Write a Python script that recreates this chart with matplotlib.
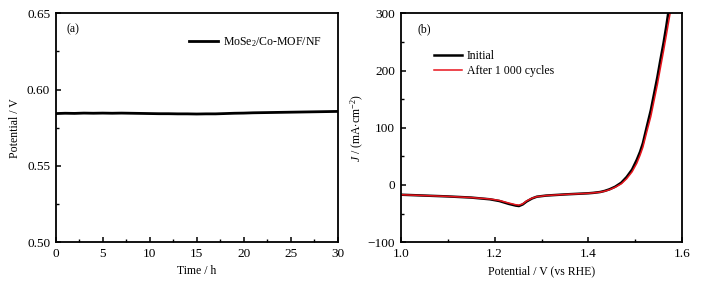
import matplotlib
matplotlib.use("Agg")
import matplotlib.pyplot as plt
import matplotlib.ticker as ticker

plt.rcParams['font.family'] = ['Liberation Serif', 'DejaVu Serif']
plt.rcParams['mathtext.fontset'] = 'custom'
plt.rcParams['mathtext.rm'] = 'Liberation Serif'
plt.rcParams['mathtext.it'] = 'Liberation Serif:italic'
plt.rcParams['font.size'] = 8.5

# (a) chronopotentiometry
tHours = [0, 1, 2, 3, 4, 5, 6, 7, 8, 9, 10, 11, 12, 13, 14, 15, 16, 17, 18, 19,
          20, 21, 22, 23, 24, 25, 26, 27, 28, 29, 30]
potA = [0.5843, 0.5845, 0.5844, 0.5846, 0.5845, 0.5846, 0.5845, 0.5846, 0.5845, 0.5844, 0.5843,
        0.5842, 0.5842, 0.5841, 0.5841, 0.5840, 0.5841, 0.5841, 0.5843, 0.5845,
        0.5846, 0.5848, 0.5849, 0.5850, 0.5851, 0.5852, 0.5853, 0.5854, 0.5855, 0.5856, 0.5857]
labelA = r"MoSe$_2$/Co-MOF/NF"

# (b) LSV before / after cycling
vInit = [1.00, 1.05, 1.10, 1.15, 1.19, 1.21, 1.23, 1.245, 1.252, 1.26, 1.268, 1.28, 1.29,
         1.31, 1.35, 1.40, 1.41, 1.425, 1.435, 1.445, 1.457, 1.47, 1.4815, 1.493, 1.503, 1.51, 1.516,
         1.525, 1.533, 1.54, 1.547, 1.553, 1.56, 1.566, 1.570]
jInit = [-17, -18.5, -20, -22, -25, -28, -33, -36, -36.8, -34, -29, -23.5, -20.5,
         -18.5, -16.5, -14.5, -13.8, -12.3, -10.3, -7.5, -3, 4, 14, 27, 44, 58, 73,
         104, 131, 160, 189, 217, 248, 278, 300]
vAfter = [1.00, 1.05, 1.10, 1.15, 1.19, 1.21, 1.23, 1.245, 1.252, 1.26, 1.268, 1.28, 1.29,
          1.31, 1.35, 1.40, 1.41, 1.425, 1.435, 1.445, 1.457, 1.47, 1.4815, 1.493, 1.503, 1.51, 1.516,
          1.525, 1.533, 1.54, 1.547, 1.553, 1.56, 1.566, 1.574]
jAfter = [-17, -18.5, -20, -22, -24.5, -27, -31.5, -34.5, -35.2, -33, -28, -23, -20.5,
          -18.5, -16.5, -14.5, -13.8, -12.5, -10.8, -8.3, -4, 2, 11, 23, 38, 52, 66,
          95, 120, 148, 176, 203, 234, 262, 300]
labelsB = ["Initial", "After 1 000 cycles"]

fig = plt.figure(figsize=(7.16, 2.86), dpi=100)
axA = fig.add_axes([55.7/716, 1-242.2/286, 282/716, 228.9/286])
axB = fig.add_axes([400.7/716, 1-242.2/286, 281.6/716, 228.9/286])

axA.plot(tHours, potA, color='black', lw=2.0, label=labelA)
axA.set_xlim(0, 30)
axA.set_ylim(0.50, 0.65)
axA.xaxis.set_major_locator(ticker.MultipleLocator(5))
axA.xaxis.set_minor_locator(ticker.MultipleLocator(2.5))
axA.yaxis.set_major_locator(ticker.MultipleLocator(0.05))
axA.yaxis.set_minor_locator(ticker.MultipleLocator(0.025))
axA.yaxis.set_major_formatter(ticker.FormatStrFormatter('%.2f'))
axA.set_xlabel("Time / h", labelpad=4)
axA.set_ylabel("Potential / V", labelpad=4)
axA.text(0.04, 0.93, "(a)", transform=axA.transAxes, va='center')
axA.legend(loc='upper right', bbox_to_anchor=(0.98, 0.95), frameon=False,
           handlelength=2.4, handletextpad=0.4)

axB.plot(vInit, jInit, color='black', lw=1.8, label=labelsB[0])
axB.plot(vAfter, jAfter, color='#e8141c', lw=1.1, label=labelsB[1])
axB.set_xlim(1.0, 1.6)
axB.set_ylim(-100, 300)
axB.xaxis.set_major_locator(ticker.MultipleLocator(0.2))
axB.xaxis.set_minor_locator(ticker.MultipleLocator(0.1))
axB.yaxis.set_major_locator(ticker.MultipleLocator(100))
axB.yaxis.set_minor_locator(ticker.MultipleLocator(50))
axB.xaxis.set_major_formatter(ticker.FormatStrFormatter('%.1f'))
axB.yaxis.set_major_formatter(ticker.FuncFormatter(lambda v, p: f"{int(v)}".replace('-', '\u2212')))
axB.set_xlabel("Potential / V (vs RHE)", labelpad=4)
axB.set_ylabel(r"$J$ / (mA$\cdot$cm$^{-2}$)", labelpad=1)
axB.text(0.06, 0.93, "(b)", transform=axB.transAxes, va='center')
axB.legend(loc='upper left', bbox_to_anchor=(0.08, 0.885), frameon=False,
           handlelength=2.4, handletextpad=0.4, labelspacing=0.25)

for ax in (axA, axB):
    for s in ax.spines.values():
        s.set_linewidth(1.3)
    ax.tick_params(which='both', direction='in', top=False, right=False, labelsize=9.5, pad=4)
    ax.tick_params(which='major', length=3.5, width=1.1)
    ax.tick_params(which='minor', length=2, width=1.0)

fig.savefig("out.png", dpi=100)
